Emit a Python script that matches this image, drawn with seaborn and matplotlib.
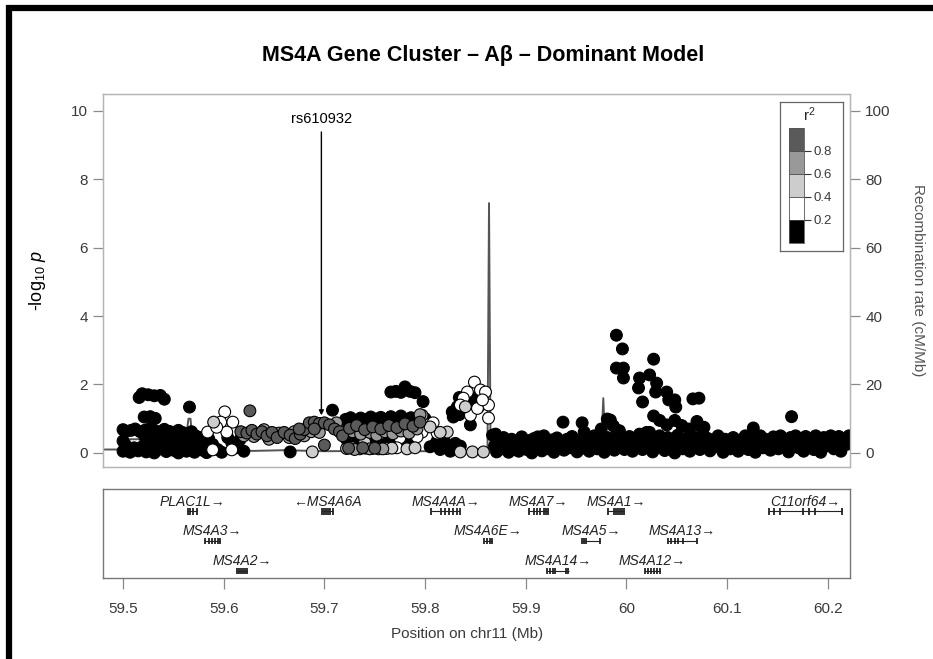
import matplotlib
matplotlib.use("Agg")
import matplotlib.pyplot as plt
import matplotlib.colors as mcolors
from matplotlib.cm import ScalarMappable
from matplotlib.lines import Line2D
import pandas as pd
import seaborn as sns

# ---------------------------------------------------------------- data
# SNPs with r2 < 0.2 (black)
black_pos = [
    59.516, 59.519, 59.525, 59.531, 59.537, 59.541, 59.521, 59.527, 59.532, 59.566,
    59.500, 59.503, 59.508, 59.512, 59.517, 59.522, 59.527, 59.532, 59.537, 59.541,
    59.546, 59.550, 59.555, 59.559, 59.563, 59.568, 59.572, 59.576,
    59.522, 59.526, 59.530, 59.534, 59.539, 59.543, 59.548, 59.552, 59.556, 59.561,
    59.565, 59.570, 59.574, 59.579, 59.583, 59.500, 59.502,
    59.500, 59.503, 59.507, 59.511, 59.515, 59.519, 59.523, 59.527, 59.531, 59.535,
    59.539, 59.543, 59.547, 59.551, 59.555, 59.559, 59.563, 59.567, 59.571, 59.575,
    59.579, 59.583,
    59.585, 59.589, 59.594, 59.604, 59.608, 59.612, 59.616, 59.598, 59.620,
    59.666, 59.708,
    59.766, 59.771, 59.776, 59.780, 59.785, 59.790, 59.798,
    59.721, 59.726, 59.731, 59.736, 59.741, 59.746, 59.751, 59.756, 59.761, 59.766,
    59.771, 59.776, 59.781, 59.786, 59.791, 59.796, 59.800,
    59.724, 59.734, 59.744, 59.754, 59.764, 59.774, 59.784,
    59.722, 59.730, 59.738, 59.746, 59.754, 59.762, 59.770, 59.778, 59.786,
    59.805, 59.810, 59.815, 59.820, 59.825, 59.830, 59.835, 59.812,
    59.834, 59.838, 59.842, 59.846, 59.850, 59.832, 59.836, 59.846, 59.830, 59.834,
    59.845, 59.855, 59.853, 59.827, 59.828,
    59.990, 59.996, 59.990, 59.997, 59.997, 60.027, 60.013, 60.023, 60.030, 60.012,
    60.029, 60.040, 60.016, 60.042, 60.048, 60.049, 60.066, 60.072, 60.027, 60.164,
    59.937, 59.956, 59.958, 59.981, 59.987, 59.984, 59.975, 59.993,
    60.033, 60.040, 60.048, 60.055, 60.062, 60.070, 60.077, 60.071, 60.126, 60.020,
    59.912, 59.870,
    59.867, 59.869, 59.871, 59.873, 59.876, 59.878, 59.881, 59.883, 59.886, 59.888,
    59.891, 59.893, 59.896, 59.898, 59.901, 59.903, 59.906, 59.908, 59.911, 59.913,
    59.916, 59.918, 59.921, 59.923, 59.926, 59.928, 59.931, 59.933, 59.936, 59.938,
    59.941, 59.943, 59.946, 59.948, 59.951, 59.953, 59.956, 59.958, 59.961, 59.963,
    59.966, 59.968, 59.971, 59.973, 59.976, 59.978, 59.981, 59.983, 59.986, 59.988,
    59.991, 59.993, 59.996, 59.998, 60.001, 60.003, 60.006, 60.008, 60.011, 60.013,
    60.016, 60.018, 60.021, 60.023, 60.026, 60.028, 60.031, 60.033, 60.036, 60.038,
    60.041, 60.043, 60.046, 60.048, 60.051, 60.053, 60.056, 60.058, 60.061, 60.063,
    60.066, 60.068, 60.071, 60.073, 60.076, 60.078, 60.081, 60.083, 60.086, 60.088,
    60.091, 60.093, 60.096, 60.098, 60.101, 60.103, 60.106, 60.108, 60.111, 60.113,
    60.116, 60.118, 60.121, 60.123, 60.126, 60.128, 60.131, 60.133, 60.136, 60.138,
    60.141, 60.143, 60.146, 60.148, 60.151, 60.153, 60.156, 60.158, 60.161, 60.163,
    60.166, 60.168, 60.171, 60.173, 60.176, 60.178, 60.181, 60.183, 60.186, 60.188,
    60.191, 60.193, 60.196, 60.198, 60.201, 60.203, 60.206, 60.208, 60.211, 60.213,
    60.216, 60.218, 60.221,
]
black_logp = [
    1.62, 1.73, 1.70, 1.67, 1.68, 1.57, 1.05, 1.06, 1.01, 1.34,
    0.68, 0.63, 0.66, 0.70, 0.62, 0.67, 0.72, 0.65, 0.61, 0.69,
    0.63, 0.58, 0.66, 0.60, 0.55, 0.62, 0.50, 0.45,
    0.45, 0.38, 0.48, 0.33, 0.42, 0.36, 0.47, 0.31, 0.40, 0.35,
    0.44, 0.30, 0.38, 0.28, 0.35, 0.35, 0.25,
    0.05, 0.12, 0.02, 0.15, 0.06, 0.18, 0.03, 0.13, 0.00, 0.10,
    0.20, 0.04, 0.14, 0.07, 0.00, 0.17, 0.05, 0.12, 0.02, 0.15,
    0.08, 0.01,
    0.42, 0.25, 0.10, 0.45, 0.30, 0.15, 0.38, 0.02, 0.05,
    0.03, 1.25,
    1.78, 1.80, 1.77, 1.93, 1.80, 1.76, 1.50,
    0.98, 1.03, 0.95, 1.02, 0.97, 1.05, 0.99, 1.04, 0.96, 1.06,
    1.00, 1.08, 0.98, 1.03, 0.97, 1.10, 1.00,
    0.85, 0.88, 0.82, 0.86, 0.84, 0.88, 0.83,
    0.40, 0.35, 0.45, 0.38, 0.42, 0.36, 0.44, 0.33, 0.40,
    0.18, 0.25, 0.10, 0.30, 0.05, 0.28, 0.20, 0.35,
    1.62, 1.58, 1.60, 1.63, 1.57, 1.35, 1.32, 1.36, 1.10, 1.12,
    0.82, 1.60, 1.34, 1.20, 1.05,
    3.44, 3.04, 2.48, 2.48, 2.19, 2.74, 2.19, 2.28, 2.04, 1.90,
    1.78, 1.78, 1.49, 1.55, 1.55, 1.34, 1.58, 1.60, 1.08, 1.06,
    0.90, 0.88, 0.61, 0.99, 0.79, 0.96, 0.70, 0.65,
    0.95, 0.82, 0.95, 0.80, 0.70, 0.92, 0.75, 0.82, 0.73, 0.60,
    0.47, 0.55,
    0.52, 0.20, 0.03, 0.38, 0.12, 0.45, 0.28, 0.02, 0.40, 0.15,
    0.33, 0.05, 0.47, 0.22, 0.10, 0.36, 0.00, 0.42, 0.18, 0.30,
    0.06, 0.50, 0.25, 0.12, 0.38, 0.02, 0.44, 0.20, 0.30, 0.08,
    0.40, 0.15, 0.48, 0.27, 0.03, 0.35, 0.14, 0.42, 0.22, 0.05,
    0.32, 0.50, 0.12, 0.40, 0.25, 0.02, 0.45, 0.18, 0.33, 0.08,
    0.55, 0.25, 0.40, 0.10, 0.30, 0.48, 0.05, 0.35, 0.20, 0.55,
    0.10, 0.42, 0.27, 0.60, 0.03, 0.38, 0.15, 0.50, 0.30, 0.07,
    0.45, 0.20, 0.35, 0.00, 0.52, 0.25, 0.12, 0.40, 0.30, 0.05,
    0.48, 0.20, 0.36, 0.10, 0.55, 0.28, 0.42, 0.06, 0.35, 0.18,
    0.50, 0.30, 0.02, 0.40, 0.22, 0.12, 0.45, 0.30, 0.05, 0.38,
    0.20, 0.50, 0.10, 0.33, 0.45, 0.02, 0.28, 0.50, 0.15, 0.40,
    0.25, 0.08, 0.47, 0.33, 0.12, 0.50, 0.20, 0.38, 0.03, 0.45,
    0.27, 0.50, 0.15, 0.35, 0.05, 0.48, 0.22, 0.40, 0.10, 0.50,
    0.30, 0.02, 0.45, 0.20, 0.38, 0.50, 0.12, 0.33, 0.48, 0.05,
    0.40, 0.25, 0.50,
]

# SNPs with 0.2 <= r2 < 0.4 (white)
white_pos = [59.601, 59.609, 59.597, 59.584, 59.603, 59.589, 59.608, 59.593,
             59.802, 59.808, 59.797, 59.812, 59.792, 59.775, 59.747, 59.762, 59.772,
             59.849, 59.842, 59.855, 59.860, 59.838, 59.863, 59.835, 59.845, 59.863,
             59.852, 59.857]
white_logp = [1.20, 0.90, 0.90, 0.61, 0.61, 0.09, 0.09, 0.75,
              0.82, 0.88, 0.61, 0.58, 0.47, 0.44, 0.13, 0.13, 0.15,
              2.07, 1.78, 1.84, 1.78, 1.60, 1.40, 1.40, 1.10, 1.02,
              1.30, 1.55]

# SNPs with 0.4 <= r2 < 0.6 (light grey)
lgrey_pos = [59.590, 59.688, 59.722, 59.728, 59.735, 59.741, 59.754, 59.767, 59.782,
             59.790, 59.733, 59.745, 59.757, 59.768, 59.740, 59.822, 59.815, 59.797,
             59.805, 59.835, 59.847, 59.858, 59.840]
lgrey_logp = [0.90, 0.03, 0.13, 0.15, 0.12, 0.14, 0.12, 0.14, 0.12,
              0.15, 0.60, 0.62, 0.58, 0.60, 0.32, 0.61, 0.60, 1.10,
              0.76, 0.03, 0.03, 0.03, 1.35]

# SNPs with 0.6 <= r2 < 0.8 (mid grey)
mgrey_pos = [59.620, 59.630, 59.640, 59.645, 59.655, 59.665, 59.670, 59.680, 59.687,
             59.695, 59.712, 59.728, 59.736, 59.745, 59.752, 59.760, 59.768, 59.776,
             59.784, 59.792, 59.730, 59.745, 59.758, 59.795]
mgrey_logp = [0.50, 0.48, 0.68, 0.40, 0.58, 0.45, 0.62, 0.50, 0.62,
              0.60, 0.88, 0.62, 0.55, 0.60, 0.52, 0.62, 0.56, 0.64,
              0.58, 0.70, 0.10, 0.12, 0.12, 1.12]

# SNPs with r2 >= 0.8 (dark grey)
dgrey_pos = [59.626, 59.617, 59.623, 59.628, 59.633, 59.638, 59.643, 59.648, 59.653,
             59.660, 59.666, 59.671, 59.676, 59.680, 59.685, 59.690, 59.695, 59.700,
             59.705, 59.710, 59.715, 59.700, 59.718, 59.690, 59.675,
             59.725, 59.732, 59.740, 59.748, 59.756, 59.764, 59.772, 59.780, 59.788,
             59.795, 59.724, 59.738, 59.750]
dgrey_logp = [1.23, 0.62, 0.58, 0.66, 0.55, 0.62, 0.50, 0.60, 0.45,
              0.60, 0.52, 0.42, 0.55, 0.68, 0.88, 0.90, 0.86, 0.88,
              0.82, 0.70, 0.62, 0.23, 0.50, 0.70, 0.70,
              0.72, 0.80, 0.68, 0.76, 0.70, 0.80, 0.74, 0.85, 0.78,
              0.90, 0.14, 0.15, 0.14]

r2_bins = ["0.0-0.2", "0.2-0.4", "0.4-0.6", "0.6-0.8", "0.8-1.0"]
r2_colors = ["#000000", "#ffffff", "#cdcdcd", "#999999", "#5a5a5a"]

# recombination rate (cM/Mb)
recomb_pos = [59.480, 59.499, 59.500, 59.520, 59.540, 59.562, 59.565, 59.567, 59.569,
              59.572, 59.600, 59.630, 59.660, 59.700, 59.750, 59.800, 59.840, 59.862,
              59.8635, 59.865, 59.867, 59.900, 59.950, 59.975, 59.977, 59.979, 59.990,
              60.050, 60.100, 60.150, 60.222]
recomb_rate = [1.0, 1.0, 4.0, 4.0, 3.5, 3.5, 10.0, 10.0, 3.0,
               1.5, 0.8, 0.6, 0.8, 0.5, 0.6, 0.5, 0.6, 1.0,
               73.0, 2.0, 1.0, 0.6, 0.8, 2.0, 16.0, 2.0, 1.0,
               1.0, 0.8, 0.8, 1.0]

# genes
gene_names = ["PLAC1L", "MS4A6A", "MS4A4A", "MS4A7", "MS4A1", "C11orf64", "MS4A3",
              "MS4A6E", "MS4A5", "MS4A13", "MS4A2", "MS4A14", "MS4A12"]
gene_start = [59.565, 59.698, 59.806, 59.903, 59.982, 60.142, 59.581,
              59.859, 59.956, 60.041, 59.613, 59.921, 60.018]
gene_end = [59.573, 59.709, 59.835, 59.922, 59.998, 60.214, 59.596,
            59.866, 59.974, 60.070, 59.623, 59.943, 60.033]
gene_row = [1, 1, 1, 1, 1, 1, 2, 2, 2, 2, 3, 3, 3]
gene_strand = ["+", "-", "+", "+", "+", "+", "+", "+", "+", "+", "+", "+", "+"]
gene_exons = [
    [59.565, 59.567, 59.569, 59.573],
    [59.698, 59.700, 59.702, 59.704, 59.706, 59.709],
    [59.806, 59.816, 59.820, 59.824, 59.828, 59.832, 59.835],
    [59.903, 59.908, 59.911, 59.914, 59.918, 59.920, 59.922],
    [59.982, 59.988, 59.990, 59.992, 59.994, 59.996, 59.998],
    [60.142, 60.147, 60.153, 60.175, 60.181, 60.187, 60.214],
    [59.581, 59.585, 59.588, 59.591, 59.594, 59.596],
    [59.859, 59.861, 59.864, 59.866],
    [59.956, 59.958, 59.960, 59.974],
    [60.041, 60.044, 60.048, 60.051, 60.056, 60.070],
    [59.613, 59.615, 59.617, 59.619, 59.621, 59.623],
    [59.921, 59.924, 59.927, 59.929, 59.940, 59.942],
    [60.018, 60.021, 60.024, 60.027, 60.030, 60.033],
]

lead_snp = "rs610932"
lead_pos = 59.697

x_ticks = [59.5, 59.6, 59.7, 59.8, 59.9, 60.0, 60.1, 60.2]
x_ticklabels = ["59.5", "59.6", "59.7", "59.8", "59.9", "60", "60.1", "60.2"]

# ---------------------------------------------------------------- style
sns.set_theme(style="white")
plt.rcParams["font.family"] = ["Liberation Sans", "DejaVu Sans"]
plt.rcParams["mathtext.fontset"] = "custom"
plt.rcParams["mathtext.rm"] = "Liberation Sans"
plt.rcParams["mathtext.it"] = "Liberation Sans:italic"

frame_grey = "#b5b5b5"
tick_grey = "#8a8a8a"
text_col = "#3a3a3a"

snps = pd.concat([
    pd.DataFrame({"pos": black_pos, "logp": black_logp, "r2": r2_bins[0]}),
    pd.DataFrame({"pos": white_pos, "logp": white_logp, "r2": r2_bins[1]}),
    pd.DataFrame({"pos": lgrey_pos, "logp": lgrey_logp, "r2": r2_bins[2]}),
    pd.DataFrame({"pos": mgrey_pos, "logp": mgrey_logp, "r2": r2_bins[3]}),
    pd.DataFrame({"pos": dgrey_pos, "logp": dgrey_logp, "r2": r2_bins[4]}),
], ignore_index=True)
recomb = pd.DataFrame({"pos": recomb_pos, "rate": recomb_rate})

fig = plt.figure(figsize=(9.33, 6.59), dpi=100)
xlim = (59.4801, 60.2220)

# ---------------------------------------------------------------- main panel
ax = fig.add_axes([0.1104, 0.2914, 0.8006, 0.5660])
ax2 = ax.twinx()
ax.set_zorder(ax2.get_zorder() + 1)
ax.patch.set_visible(False)

sns.lineplot(data=recomb, x="pos", y="rate", ax=ax2, color="#555555", lw=1.4,
             estimator=None, sort=False)
sns.scatterplot(data=snps, x="pos", y="logp", hue="r2", hue_order=r2_bins,
                palette=dict(zip(r2_bins, r2_colors)), s=72, edgecolor="black",
                linewidth=0.8, legend=False, ax=ax)

ax.set_xlim(*xlim)
ax.set_ylim(-0.41, 10.49)
ax2.set_ylim(-4.1, 104.9)
ax.set_yticks([0, 2, 4, 6, 8, 10])
ax2.set_yticks([0, 20, 40, 60, 80, 100])
ax.set_xticks([])
ax.set_xlabel("")
ax2.set_ylabel("")
for a in (ax, ax2):
    for sp in a.spines.values():
        sp.set_color(frame_grey)
        sp.set_linewidth(0.9)
ax.tick_params(axis="y", direction="out", length=7, width=0.9, color=tick_grey,
               labelsize=11, labelcolor=text_col, pad=4, left=True)
ax2.tick_params(axis="y", direction="out", length=7, width=0.9, color=tick_grey,
                labelsize=11, labelcolor=text_col, pad=4, right=True)

ax.set_ylabel(r"-log$_{10}$ $p$", fontsize=13, color="black")
ax.yaxis.set_label_coords(-0.074, 0.5)
ax2.set_ylabel("Recombination rate (cM/Mb)", fontsize=11, color="#555555",
               rotation=270, va="center")
ax2.yaxis.set_label_coords(1.091, 0.5)

# lead SNP annotation
ax.text(lead_pos, 9.76, lead_snp, ha="center", va="center", fontsize=10.5,
        color="black")
ax.annotate("", xy=(lead_pos, 1.10), xytext=(lead_pos, 9.38),
            arrowprops=dict(arrowstyle="-|>", lw=1.0, color="black",
                            mutation_scale=7, shrinkA=0, shrinkB=0))

# r2 legend
leg = fig.add_axes([0.8360, 0.6191, 0.0675, 0.2261])
leg.set_xticks([])
leg.set_yticks([])
leg.patch.set_facecolor("white")
for sp in leg.spines.values():
    sp.set_color("#666666")
    sp.set_linewidth(0.9)
leg.text(0.47, 0.915, r"r$^2$", ha="center", va="center", fontsize=11,
         transform=leg.transAxes)
cax = fig.add_axes([0.8457, 0.6313, 0.0161, 0.1745])
cmap = mcolors.ListedColormap(r2_colors)
norm = mcolors.BoundaryNorm([0, 0.2, 0.4, 0.6, 0.8, 1.0], cmap.N)
cb = fig.colorbar(ScalarMappable(norm=norm, cmap=cmap), cax=cax,
                  ticks=[0.2, 0.4, 0.6, 0.8], drawedges=True)
cb.outline.set_linewidth(0.6)
cb.outline.set_edgecolor("#555555")
cb.dividers.set_color("#444444")
cb.dividers.set_linewidth(0.6)
cb.ax.minorticks_off()
cb.ax.set_yticklabels(["0.2", "0.4", "0.6", "0.8"])
cb.ax.tick_params(which="major", direction="out", length=5, width=0.8,
                  color="#333333", labelsize=9.5, labelcolor=text_col, pad=2)

# ---------------------------------------------------------------- gene panel
axg = fig.add_axes([0.1104, 0.1229, 0.8006, 0.1350])
axg.set_xlim(*xlim)
axg.set_ylim(3.24, 0.25)
axg.set_yticks([])
for sp in axg.spines.values():
    sp.set_color("#777777")
    sp.set_linewidth(1.0)
for name, s, e, r, st, ex in zip(gene_names, gene_start, gene_end, gene_row,
                                 gene_strand, gene_exons):
    axg.hlines(r, s, e, color="#222222", lw=0.8)
    axg.vlines(ex, r - 0.11, r + 0.11, color="#222222", lw=1.3)
    label = f"{name}\u2192" if st == "+" else f"\u2190{name}"
    axg.text((s + e) / 2, r - 0.33, label, ha="center", va="center",
             fontsize=10, style="italic", color="#222222")
axg.set_xticks(x_ticks)
axg.set_xticklabels(x_ticklabels)
axg.tick_params(axis="x", direction="out", length=8, width=0.9, color=tick_grey,
                labelsize=11, labelcolor=text_col, pad=9, bottom=True)
axg.set_xlabel("Position on chr11 (Mb)", fontsize=11, color=text_col)
axg.xaxis.set_label_coords(0.487, -0.55)

# ---------------------------------------------------------------- title and frame
fig.text(0.5177, 0.9165, "MS4A Gene Cluster \u2013 A\u03b2 \u2013 Dominant Model",
         ha="center", va="center", fontsize=15.5, fontweight="bold", color="black")
fig.add_artist(Line2D([0.0065, 1.0], [0.9886, 0.9886], color="black", lw=4.5,
                      transform=fig.transFigure, solid_capstyle="butt"))
fig.add_artist(Line2D([0.0097, 0.0097], [0.0, 0.992], color="black", lw=4.5,
                      transform=fig.transFigure, solid_capstyle="butt"))

fig.savefig("out.png", dpi=100, facecolor="white")
